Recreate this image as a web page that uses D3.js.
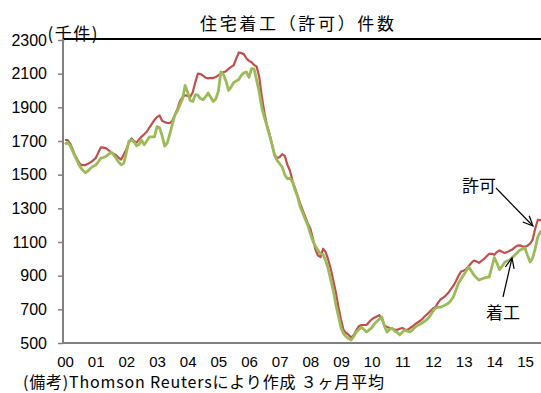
<!DOCTYPE html>
<html><head><meta charset="utf-8">
<script src="https://cdn.jsdelivr.net/npm/d3@7/dist/d3.min.js"></script>
<style>body{margin:0;background:#fff}svg{display:block}</style>
</head><body><svg id="c" width="541" height="393"></svg>
<script>
const title = "住宅着工（許可）件数";
const unitLabel = "(千件)";
const footnote = "(備考)Thomson Reutersにより作成 ３ヶ月平均";
const yearLabels = ["00","01","02","03","04","05","06","07","08","09","10","11","12","13","14","15"];
const yTicks = [500,700,900,1100,1300,1500,1700,1900,2100,2300];
const seriesNames = ["許可","着工"];
// monthly, 3-month average, thousands, Jan 2000 - Aug 2015
const permits = [
1706,1706,1685,1650,1612,1585,1560,1557,1557,1565,1573,1585,
1598,1630,1662,1661,1658,1646,1634,1625,1616,1600,1590,1620,
1650,1690,1715,1700,1690,1710,1726,1740,1755,1780,1802,1825,
1842,1852,1820,1812,1808,1807,1820,1855,1890,1937,1960,1972,
1968,1962,1990,2050,2100,2098,2088,2076,2072,2075,2074,2080,
2090,2100,2108,2115,2128,2140,2150,2190,2226,2222,2216,2190,
2176,2168,2152,2142,2080,1965,1870,1795,1745,1680,1620,1598,
1605,1622,1612,1560,1525,1465,1420,1375,1330,1290,1250,1210,
1180,1120,1055,1020,1010,1060,1040,995,940,870,800,714,
640,577,560,548,532,548,575,600,607,607,607,625,
640,650,658,665,640,605,595,589,585,580,578,585,
589,580,578,589,598,612,622,632,645,662,675,690,
705,715,740,760,770,782,798,820,840,868,900,925,
930,938,958,975,990,985,976,988,1000,1015,1030,1030,
1024,1040,1050,1042,1035,1040,1048,1055,1068,1078,1080,1074,
1072,1078,1090,1115,1180,1231,1230,1225
];
const starts = [
1680,1692,1672,1640,1605,1575,1545,1525,1512,1522,1538,1550,
1556,1575,1598,1602,1608,1620,1634,1618,1598,1575,1558,1568,
1630,1700,1706,1695,1672,1680,1704,1678,1700,1724,1724,1724,
1785,1780,1730,1670,1688,1740,1800,1855,1880,1915,1950,2030,
1990,1940,1935,1975,1972,1952,1945,1962,1985,1960,1935,1950,
1995,2110,2095,2055,2000,2020,2048,2056,2065,2090,2105,2110,
2078,2130,2128,2060,1990,1900,1840,1790,1735,1680,1615,1585,
1565,1545,1500,1475,1480,1458,1410,1370,1310,1275,1235,1200,
1150,1105,1075,1050,1030,1025,990,940,875,810,725,660,
590,555,538,526,518,540,565,580,594,580,565,578,
590,612,628,642,654,600,565,580,588,570,562,548,
565,576,570,566,578,595,605,612,622,632,645,665,
690,708,712,713,720,727,736,752,775,815,856,880,
904,928,951,928,904,888,874,880,886,890,893,950,
1008,975,936,955,978,987,993,1008,1022,1038,1052,1058,
1064,1020,981,1005,1060,1130,1160,1170
];

const svg = d3.select("#c");
const pLeft = 63, pRight = 541, pTop = 39, pBottom = 343;
const x = d3.scaleLinear().domain([0, 180]).range([65, 525]);
const y = d3.scaleLinear().domain([500, 2300]).range([343, 40]);

// title
svg.append("text").attr("x", 200).attr("y", 22).attr("dominant-baseline","central")
  .attr("font-family","'Noto Sans CJK JP'").attr("font-size",17)
  .attr("textLength",194).attr("lengthAdjust","spacing").attr("fill","#000").text(title);

// y axis
const yAxis = d3.axisLeft(y).tickValues(yTicks).tickSize(5).tickPadding(11).tickFormat(d3.format("d"));
const gy = svg.append("g").attr("transform",`translate(${pLeft},0)`).call(yAxis);
gy.select(".domain").remove();
gy.selectAll(".tick line").attr("stroke","#808080").attr("stroke-width",1.5);
gy.selectAll(".tick text").attr("font-family","'Liberation Sans', Arial, sans-serif").attr("font-size",16).attr("fill","#000");

// x axis labels
const xAxis = d3.axisBottom(x).tickValues(d3.range(0, 181, 12)).tickSize(0)
  .tickFormat((d,i) => yearLabels[i]);
const gx = svg.append("g").attr("transform",`translate(0,${pBottom})`).call(xAxis);
gx.select(".domain").remove();
gx.selectAll(".tick text").attr("y",18).attr("dy",null).attr("dominant-baseline","central")
  .attr("font-family","'Liberation Sans', Arial, sans-serif").attr("font-size",15).attr("fill","#000");

// unit label
svg.append("text").attr("x", 47.5).attr("y", 32).attr("dominant-baseline","central")
  .attr("font-family","'Noto Sans CJK JP'").attr("font-size",17).attr("letter-spacing",1.5)
  .attr("fill","#000").text(unitLabel);

// frame lines
svg.append("line").attr("x1",pLeft).attr("x2",pRight).attr("y1",pTop).attr("y2",pTop).attr("stroke","#000").attr("stroke-width",2);
svg.append("line").attr("x1",pLeft).attr("x2",pLeft).attr("y1",pTop).attr("y2",pBottom+1).attr("stroke","#808080").attr("stroke-width",2);
svg.append("line").attr("x1",pLeft).attr("x2",pRight).attr("y1",pBottom).attr("y2",pBottom).attr("stroke","#808080").attr("stroke-width",2);

// lines
const line = d3.line().x((d,i) => x(i)).y(d => y(d));
svg.append("path").datum(permits).attr("d", line).attr("fill","none")
  .attr("stroke","#c0504d").attr("stroke-width",2.2).attr("stroke-linejoin","round");
svg.append("path").datum(starts).attr("d", line).attr("fill","none")
  .attr("stroke","#9bbb59").attr("stroke-width",2.8).attr("stroke-linejoin","round");

// annotations
function arrow(x1,y1,x2,y2){
  const g = svg.append("g").attr("stroke","#000").attr("stroke-width",1.2).attr("fill","none");
  g.append("line").attr("x1",x1).attr("y1",y1).attr("x2",x2).attr("y2",y2);
  const a = Math.atan2(y2-y1, x2-x1), L = 11, s = 0.42;
  g.append("path").attr("d",`M${x2-L*Math.cos(a-s)},${y2-L*Math.sin(a-s)}L${x2},${y2}L${x2-L*Math.cos(a+s)},${y2-L*Math.sin(a+s)}`);
}
svg.append("text").attr("x",462).attr("y",184).attr("dominant-baseline","central")
  .attr("font-family","'Noto Sans CJK JP'").attr("font-size",17).attr("fill","#000").text(seriesNames[0]);
arrow(496,188,533,226);
svg.append("text").attr("x",486).attr("y",311).attr("dominant-baseline","central")
  .attr("font-family","'Noto Sans CJK JP'").attr("font-size",17).attr("fill","#000").text(seriesNames[1]);
arrow(503,297,512,258);

// footnote
svg.append("text").attr("x",23).attr("y",381).attr("dominant-baseline","central")
  .attr("font-family","'Noto Sans CJK JP'").attr("font-size",16)
  .attr("textLength",361).attr("lengthAdjust","spacing").attr("fill","#000").text(footnote);
</script></body></html>
